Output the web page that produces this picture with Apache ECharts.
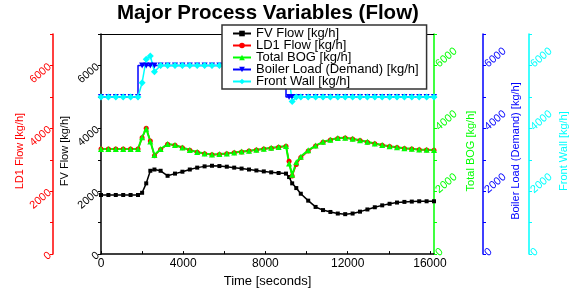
<!DOCTYPE html>
<html>
<head>
<meta charset="utf-8">
<script src="https://cdn.jsdelivr.net/npm/echarts@6/dist/echarts.min.js"></script>
<style>
  html, body { margin: 0; padding: 0; background: #fff; }
  #main { width: 579px; height: 293px; }
</style>
</head>
<body>
<div id="main"></div>
<script>
// time samples [seconds]
var time = [0, 360, 720, 1080, 1440, 1800, 2000, 2200, 2400, 2600, 2900,
  3240, 3600, 3960, 4320, 4680, 5040, 5400, 5760, 6120, 6480, 6840, 7200, 7560, 7920, 8280, 8640, 9000,
  9150, 9300, 9500,
  9720, 10080, 10440, 10800, 11160, 11520, 11880, 12240, 12600, 12960, 13320, 13680, 14040, 14400, 14760, 15120, 15480, 15840, 16200];

var fvFlow = [1880, 1880, 1880, 1880, 1880, 1880, 1950, 2250, 2650, 2690, 2650,
  2490, 2560, 2620, 2690, 2750, 2790, 2810, 2800, 2780, 2750, 2720, 2690, 2660, 2630, 2600, 2580, 2560,
  2450, 2250, 2100,
  1920, 1700, 1500, 1400, 1340, 1290, 1270, 1290, 1350, 1420, 1490, 1550, 1600, 1640, 1660, 1670, 1680, 1680, 1680];

var ld1Flow = [3340, 3340, 3340, 3340, 3340, 3340, 3700, 4000, 3600, 3130, 3330,
  3490, 3460, 3380, 3300, 3240, 3190, 3160, 3170, 3190, 3220, 3250, 3280, 3310, 3340, 3370, 3400, 3430,
  2950, 2480, 2850,
  3070, 3280, 3440, 3560, 3630, 3680, 3690, 3660, 3610, 3560, 3510, 3460, 3420, 3390, 3360, 3340, 3320, 3310, 3300];

var totalBog = [3340, 3340, 3340, 3340, 3340, 3340, 3720, 3990, 3580, 3150, 3340,
  3500, 3470, 3390, 3310, 3250, 3200, 3170, 3180, 3200, 3230, 3260, 3290, 3320, 3350, 3380, 3410, 3440,
  2880, 2520, 2920,
  3100, 3300, 3450, 3570, 3640, 3690, 3700, 3670, 3620, 3570, 3520, 3470, 3430, 3400, 3370, 3350, 3330, 3320, 3310];

var boilerLoad = [5000, 5000, 5000, 5000, 5000, 5000, 6000, 6000, 6000, 6000, 6000,
  6000, 6000, 6000, 6000, 6000, 6000, 6000, 6000, 6000, 6000, 6000, 6000, 6000, 6000, 6000, 6000, 6000,
  5000, 5000, 5000,
  5000, 5000, 5000, 5000, 5000, 5000, 5000, 5000, 5000, 5000, 5000, 5000, 5000, 5000, 5000, 5000, 5000, 5000, 5000];

var frontWall = [5000, 5000, 5000, 5000, 5000, 5000, 5450, 6200, 6300, 5800, 6000,
  6000, 6000, 6000, 6000, 6000, 6000, 6000, 6000, 6000, 6000, 6000, 6000, 6000, 6000, 6000, 6000, 6000,
  5600, 4850, 5000,
  5000, 5000, 5000, 5000, 5000, 5000, 5000, 5000, 5000, 5000, 5000, 5000, 5000, 5000, 5000, 5000, 5000, 5000, 5000];

function pairs(arr) {
    return time.map(function (t, i) { return [t, arr[i]]; });
}

// one y axis per variable, all on the same 0..7000 scale
function flowAxis(name, color, pos, offset, gap) {
    return {
        type: 'value',
        position: pos,
        offset: offset,
        min: 0,
        max: 7000,
        interval: 1000,
        name: name,
        nameLocation: 'middle',
        nameRotate: 90,
        nameGap: gap,
        nameMoveOverlap: false,
        nameTextStyle: { color: color, fontSize: 11, fontFamily: 'Liberation Sans', padding: [0, 14, 0, 0] },
        axisLine: { show: true, onZero: false, lineStyle: { color: color, width: 1.5 } },
        axisTick: { show: true, length: 3, lineStyle: { color: color } },
        axisLabel: {
            color: color,
            fontSize: 11,
            fontFamily: 'Liberation Sans',
            rotate: 40,
            margin: 3,
            formatter: function (v) { return v % 2000 === 0 ? v : ''; }
        },
        splitLine: { show: false }
    };
}

var chart = echarts.init(document.getElementById('main'));
var option = {
    animation: false,
    title: {
        text: 'Major Process Variables (Flow)',
        left: 117,
        top: 3,
        padding: 0,
        textStyle: { fontSize: 20.5, fontWeight: 'bold', color: '#000', fontFamily: 'Liberation Sans' }
    },
    legend: {
        orient: 'vertical',
        left: 222,
        top: 25,
        padding: [2, 8, 1, 10],
        itemGap: -1,
        itemWidth: 18,
        itemHeight: 7,
        backgroundColor: '#fff',
        borderColor: '#333',
        borderWidth: 1.5,
        textStyle: { fontSize: 13, lineHeight: 12, color: '#000', fontFamily: 'Liberation Sans' },
        data: ['FV Flow [kg/h]', 'LD1 Flow [kg/h]', 'Total BOG [kg/h]', 'Boiler Load (Demand) [kg/h]', 'Front Wall [kg/h]']
    },
    grid: { left: 101, right: 145, top: 34, bottom: 37 },
    xAxis: [{
        type: 'value',
        min: 0,
        max: 16200,
        interval: 2000,
        name: 'Time [seconds]',
        nameLocation: 'middle',
        nameGap: 19,
        nameTextStyle: { fontSize: 13, color: '#000', fontFamily: 'Liberation Sans' },
        axisLine: { onZero: false, lineStyle: { color: '#000', width: 1.5 } },
        axisTick: { inside: true, length: 3, lineStyle: { color: '#000' } },
        axisLabel: {
            color: '#000', fontSize: 12, margin: 4, fontFamily: 'Liberation Sans',
            showMaxLabel: false,
            formatter: function (v) { return v % 4000 === 0 ? v : ''; }
        },
        splitLine: { show: false }
    }, {
        type: 'value',
        position: 'top',
        min: 0,
        max: 16200,
        axisLine: { show: true, onZero: false, lineStyle: { color: '#000', width: 1 } },
        axisTick: { show: false },
        axisLabel: { show: false },
        splitLine: { show: false }
    }],
    yAxis: [
        flowAxis('FV Flow [kg/h]', '#000', 'left', 0, 31),
        flowAxis('LD1 Flow [kg/h]', '#ff0000', 'left', 48, 28),
        flowAxis('Total BOG [kg/h]', '#00ff00', 'right', 0, 31),
        flowAxis('Boiler Load (Demand) [kg/h]', '#0000ff', 'right', 49, 27),
        flowAxis('Front Wall [kg/h]', '#00ffff', 'right', 95, 29)
    ],
    series: [
        {
            name: 'FV Flow [kg/h]', type: 'line', yAxisIndex: 0,
            symbol: 'rect', symbolSize: 4,
            itemStyle: { color: '#000' }, lineStyle: { color: '#000', width: 1.5 },
            data: pairs(fvFlow)
        }, {
            name: 'LD1 Flow [kg/h]', type: 'line', yAxisIndex: 1,
            symbol: 'circle', symbolSize: 5,
            itemStyle: { color: '#ff0000' }, lineStyle: { color: '#ff0000', width: 1.5 },
            data: pairs(ld1Flow)
        }, {
            name: 'Total BOG [kg/h]', type: 'line', yAxisIndex: 2,
            symbol: 'triangle', symbolSize: 6,
            itemStyle: { color: '#00ff00' }, lineStyle: { color: '#00ff00', width: 2 },
            data: pairs(totalBog)
        }, {
            name: 'Boiler Load (Demand) [kg/h]', type: 'line', yAxisIndex: 3,
            step: 'start',
            symbol: 'triangle', symbolRotate: 180, symbolSize: 6,
            itemStyle: { color: '#0000ff' }, lineStyle: { color: '#0000ff', width: 1.5 },
            data: pairs(boilerLoad)
        }, {
            name: 'Front Wall [kg/h]', type: 'line', yAxisIndex: 4,
            symbol: 'diamond', symbolSize: 7,
            itemStyle: { color: '#00ffff' }, lineStyle: { color: '#00ffff', width: 1.5 },
            data: pairs(frontWall)
        }
    ]
};
chart.setOption(option);
</script>
</body>
</html>
